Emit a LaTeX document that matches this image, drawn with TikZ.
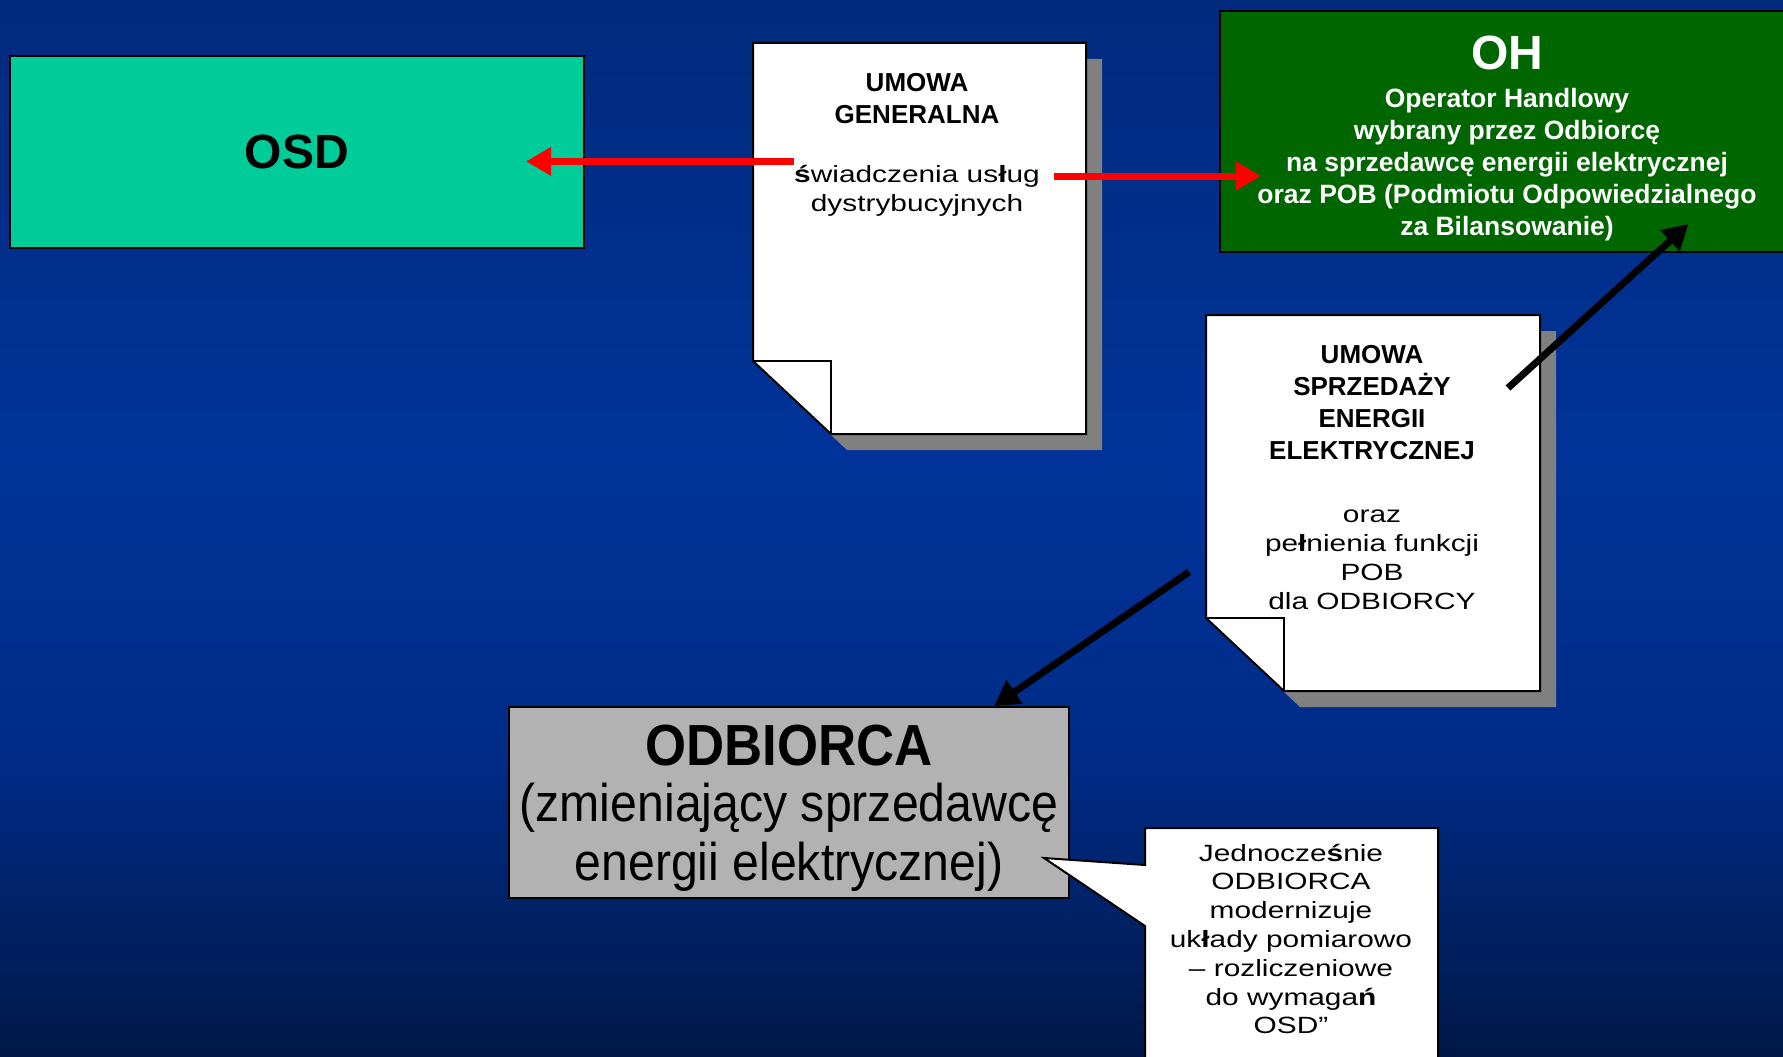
\documentclass[tikz,border=0pt]{standalone}
\usepackage{fontspec}
\setmainfont{Liberation Sans}
\newfontfamily\widefont{Liberation Sans}[FakeStretch=1.27]
\newfontfamily\narrowfont{Liberation Sans}[FakeStretch=0.91]
\usetikzlibrary{arrows.meta,calc}

\definecolor{navytop}{RGB}{0,42,125}
\definecolor{navymid}{RGB}{0,51,153}
\definecolor{navylow}{RGB}{0,44,136}
\definecolor{navybot}{RGB}{0,24,72}
\definecolor{osdgreen}{RGB}{0,204,153}
\definecolor{ohgreen}{RGB}{0,102,0}
\definecolor{odbgray}{RGB}{178,178,178}
\definecolor{shadowgray}{RGB}{128,128,128}

\def\bgW{1783}
\def\bgH{1057}

\begin{document}
\begin{tikzpicture}[x=1pt, y=-1pt,
    box/.style={draw=black, line width=2pt, inner sep=0pt},
    paper/.style={draw=black, fill=white, line width=2pt},
    title/.style={font=\bfseries\fontsize{26}{32}\selectfont, align=center, inner sep=0pt},
    body/.style={font=\widefont\fontsize{23.5}{29}\selectfont, align=center, inner sep=0pt},
    redarrow/.style={-{Triangle[length=25pt,width=27pt]}, red, line width=7pt},
    blackarrow/.style={-{Triangle[length=25pt,width=27pt]}, black, line width=7pt}]
      \useasboundingbox (0,0) rectangle (\bgW,\bgH);
      \clip (0,0) rectangle (\bgW,\bgH);
      % background
      \shade[top color=navytop, bottom color=navymid] (0,0) rectangle (\bgW,451);
      \shade[top color=navymid, bottom color=navylow] (0,450) rectangle (\bgW,751);
      \shade[top color=navylow, bottom color=navybot] (0,750) rectangle (\bgW,\bgH);

      % the two contracts (page with shadow and folded corner)
      \foreach \xa/\ya/\xb/\yb in {753/43/1086/434, 1206/315/1540/691} {
          \fill[shadowgray] (\xa+16,\ya+16) -- (\xb+16,\ya+16) -- (\xb+16,\yb+16)
              -- (\xa+94,\yb+16) -- (\xa+16,\yb-57) -- cycle;
          \draw[paper] (\xa,\ya) -- (\xb,\ya) -- (\xb,\yb) -- (\xa+78,\yb)
              -- (\xa,\yb-73) -- cycle;
          \draw[line width=2pt] (\xa,\yb-73) -- (\xa+78,\yb-73) -- (\xa+78,\yb);
      }

      \node[box, fill=osdgreen, minimum width=574pt, minimum height=192pt,
          font=\bfseries\fontsize{48}{50}\selectfont] (osd) at (297,152) {OSD};
      \node[box, fill=ohgreen, minimum width=575pt, minimum height=241pt] (oh) at (1507.5,131.5) {};
      \node[box, fill=odbgray, minimum width=560pt, minimum height=191pt] (odbiorca) at (789,802.5) {};

      % callout
      \draw[paper] (1145,828) -- (1438,828) -- (1438,1070) -- (1145,1070)
          -- (1145,926) -- (1044,858) -- (1145,865) -- cycle;

      \node[white, inner sep=0pt, font=\bfseries\fontsize{48}{50}\selectfont] (ohTitle) at (1507,53) {OH};
      \node[white, inner sep=0pt, align=center, font=\bfseries\fontsize{26.5}{32}\selectfont]
          (ohText) at (1507,165) {Operator Handlowy\\wybrany przez Odbiorcę\\na sprzedawcę energii elektrycznej\\oraz POB (Podmiotu Odpowiedzialnego\\za Bilansowanie)};
      \node[title] (genTitle) at (917,99) {UMOWA\\GENERALNA};
      \node[body, font=\widefont\fontsize{23.5}{28.7}\selectfont] (genBody) at (917,190.5) {\textbf{ś}wiadczenia us\textbf{ł}ug\\dystrybucyjnych};
      \node[title] (sprzTitle) at (1372,403) {UMOWA\\SPRZEDAŻY\\ENERGII\\ELEKTRYCZNEJ};
      \node[body] (sprzBody) at (1372,560) {oraz\\pe\textbf{ł}nienia funkcji\\POB\\dla ODBIORCY};
      \node[inner sep=0pt, align=center, font=\narrowfont\fontsize{53}{59}\selectfont]
          (odbText) at (789,808) {{\fontsize{58}{59}\selectfont\bfseries ODBIORCA}\\[-3pt](zmieniający sprzedawcę\\energii elektrycznej)};
      \node[body, font=\widefont\fontsize{23.5}{28.8}\selectfont] (callout) at (1291,939)
          {Jednocze\textbf{ś}nie\\ODBIORCA\\modernizuje\\uk\textbf{ł}ady pomiarowo\\– rozliczeniowe\\do wymaga\textbf{ń}\\OSD”};

      % connectors
      \coordinate (genL) at ($(genBody.north west)+(0,-3.5)$);
      \coordinate (genR) at (1054,176);
      \coordinate (sprzR) at (1508,388);
      \coordinate (sprzL) at (1189,572);
      \draw[redarrow] (genL) -- ($(genL -| osd.east)+(-59,0)$);
      \draw[redarrow] (genR) -- ($(genR -| oh.west)+(42,0)$);
      \draw[blackarrow] (sprzR) -- ($(oh.south)+(181,-29)$);
      \draw[blackarrow] (sprzL) -- ($(odbiorca.north east)+(-76,0)$);
\end{tikzpicture}
\end{document}
